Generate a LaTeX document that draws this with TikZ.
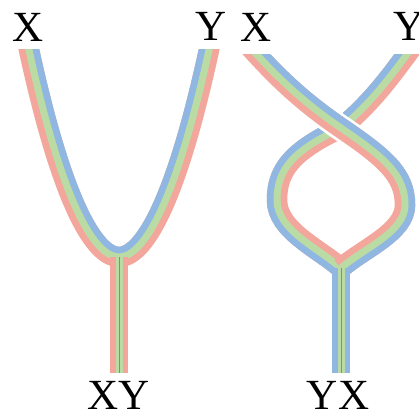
\documentclass[tikz,border=0pt]{standalone}
\usepackage{fontspec}
\setmainfont{Liberation Serif}
\usetikzlibrary{calc}

\definecolor{ribred}{RGB}{243,166,155}
\definecolor{ribgreen}{RGB}{186,220,164}
\definecolor{ribblue}{RGB}{143,183,226}
\definecolor{ribseam}{RGB}{120,150,125}

% strand centre lines (pixel units, y downwards)
\newcommand\pathU{($(xL)+(-2.2,-10)$) -- (xL) .. controls (66,220) and (99,257) .. (mL) .. controls (139,257) and (172,220) .. (yL) -- ($(yL)+(2.2,-10)$)}
\newcommand\pathYa{(yR) .. controls (395,70) and (375,100) .. (cR) .. controls (295,150) and (277,168) .. (277,200)}
\newcommand\pathYb{.. controls (277,230) and (318,248) .. (mR)}
\newcommand\pathXa{(xR) .. controls (275,75) and (300,100) .. (cR) .. controls (385,158) and (405,175) .. (405,205)}
\newcommand\pathXb{.. controls (405,232) and (364,248) .. (mR)}

\begin{document}
\begin{tikzpicture}[
  x=1pt,y=-1pt,
  lbl/.style={inner sep=0pt, font=\fontsize{43}{43}\selectfont},
  rib/.style={line width=20.5pt, line cap=butt},
  stem/.style={line width=18pt, line cap=butt},
  core/.style={line width=7pt, draw=ribgreen},
  seam/.style={line width=0.7pt, draw=ribseam},
  gap/.style={line width=26pt, draw=white}
]
\useasboundingbox (0,0) rectangle (419,414);

\coordinate (xL) at (29,50);
\coordinate (yL) at (209,50);
\coordinate (mL) at (119,257);
\coordinate (oL) at (119,373);
\coordinate (xR) at (248,45);
\coordinate (yR) at (414,45);
\coordinate (cR) at (341,128);
\coordinate (mR) at (341,268);
\coordinate (oR) at (341,373);

\node[lbl] (labXL) at (28,27) {X};
\node[lbl] (labYL) at (211,26) {Y};
\node[lbl] (labXR) at (256,27) {X};
\node[lbl] (labYR) at (409,26) {Y};
\node[lbl] (labXY) at (119,395) {XY};
\node[lbl] (labYX) at (338,395) {YX};

% left: X and Y fused into XY
\begin{scope}
  \clip (0,50) rectangle (232,414);
  \draw[rib, draw=ribred] \pathU;
  \begin{scope}
    \clip \pathU -- cycle;
    \draw[rib, draw=ribblue] \pathU;
  \end{scope}
  \draw[core] \pathU;
\end{scope}
\draw[stem, draw=ribred] (mL) -- (oL);
\draw[core] (mL) -- (oL);
\draw[seam] (mL) -- (oL);

% right: braided first, then fused into YX
\begin{scope}
  \clip (232,55) rectangle (419,414);
  % Y goes under
  \draw[rib, draw=ribred] \pathYa \pathYb;
  \begin{scope}
    \clip \pathYa \pathYb -- (341,420) -- (232,420) -- (232,0) -- (414,0) -- cycle;
    \draw[rib, draw=ribblue] \pathYa \pathYb;
  \end{scope}
  \draw[core] \pathYa \pathYb;
  % X goes over
  \draw[gap] \pathXa;
  \draw[rib, draw=ribred] \pathXa \pathXb;
  \begin{scope}
    \clip \pathXa \pathXb -- (341,420) -- (430,420) -- (430,0) -- (248,0) -- cycle;
    \draw[rib, draw=ribblue] \pathXa \pathXb;
  \end{scope}
  \draw[core] \pathXa \pathXb;
\end{scope}
\draw[stem, draw=ribblue] (mR) -- (oR);
\draw[core] (mR) -- (oR);
\draw[seam] (mR) -- (oR);
\end{tikzpicture}
\end{document}
